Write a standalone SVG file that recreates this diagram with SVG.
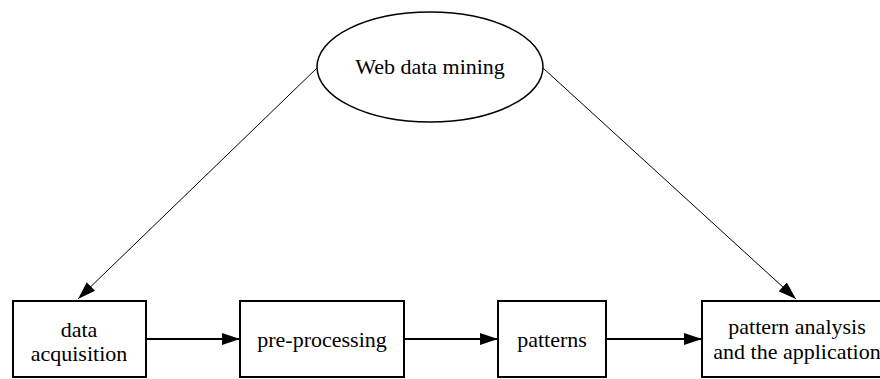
<svg xmlns="http://www.w3.org/2000/svg" width="880" height="379" viewBox="0 0 880 379">
<style>
.box{fill:#fff;stroke:#000;stroke-width:2}
.ell{fill:#fff;stroke:#000;stroke-width:1.5}
.t{font-family:'Liberation Serif','Times New Roman','DejaVu Serif',serif;font-size:22px;fill:#000;text-anchor:middle}
.h{stroke:#000;stroke-width:2;fill:none}
.d{stroke:#000;stroke-width:1;fill:none}
</style>
<defs>
<marker id="ah" markerUnits="userSpaceOnUse" markerWidth="18" markerHeight="12" refX="18" refY="6" orient="auto">
<path d="M0,0 L18,6 L0,12 z" fill="#000"/>
</marker>
</defs>
<rect width="880" height="379" fill="#fff"/>
<g id="connectors">
<line class="d" x1="317" y1="68" x2="78" y2="299" marker-end="url(#ah)"/>
<line class="d" x1="543" y1="68" x2="796" y2="299" marker-end="url(#ah)"/>
<line class="h" x1="146" y1="339" x2="240" y2="339" marker-end="url(#ah)"/>
<line class="h" x1="404" y1="339" x2="498" y2="339" marker-end="url(#ah)"/>
<line class="h" x1="606" y1="339" x2="702" y2="339" marker-end="url(#ah)"/>
</g>
<g id="web-data-mining">
<ellipse class="ell" cx="430" cy="67" rx="113" ry="55"/>
<text class="t" x="430" y="74" font-family="Liberation Serif, serif">Web data mining</text>
</g>
<g id="data-acquisition">
<rect class="box" x="13" y="301" width="133" height="76"/>
<text class="t" x="79" y="337" font-family="Liberation Serif, serif">data</text>
<text class="t" x="79" y="361" font-family="Liberation Serif, serif">acquisition</text>
</g>
<g id="pre-processing">
<rect class="box" x="240" y="301" width="164" height="76"/>
<text class="t" x="322" y="347" font-family="Liberation Serif, serif">pre-processing</text>
</g>
<g id="patterns">
<rect class="box" x="498" y="301" width="108" height="76"/>
<text class="t" x="552" y="347" font-family="Liberation Serif, serif">patterns</text>
</g>
<g id="pattern-analysis">
<rect class="box" x="702" y="301" width="190" height="76"/>
<text class="t" x="797" y="334" font-family="Liberation Serif, serif">pattern analysis</text>
<text class="t" x="797" y="359" font-family="Liberation Serif, serif">and the application</text>
</g>
</svg>
